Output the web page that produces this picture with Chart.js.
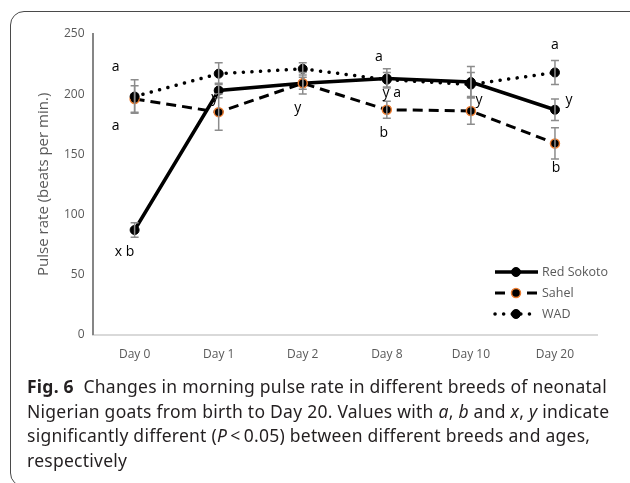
<!DOCTYPE html>
<html>
<head>
<meta charset="utf-8">
<script src="https://cdn.jsdelivr.net/npm/chart.js@4.4.1/dist/chart.umd.min.js"></script>
<style>
  body { margin: 0; background: #fff; width: 630px; height: 483px; overflow: hidden; position: relative; }
  #frame { position: absolute; left: 10px; top: 11px; width: 640px; height: 476px; border: 1.5px solid #4a4a4a; border-radius: 14px; box-sizing: border-box; }
  #wrap { position: absolute; left: 0; top: 0; width: 630px; height: 380px; }
  #caption { position: absolute; left: 27px; top: 374px; width: 600px; font-family: "Noto Sans", sans-serif; font-size: 17.5px; line-height: 24.7px; color: #231f20; letter-spacing: 0.25px; }
  #caption b { font-weight: 700; }
</style>
</head>
<body>
<div id="frame"></div>
<div id="wrap"><canvas id="lineChart" width="630" height="380"></canvas></div>
<div id="caption">
  <b>Fig. 6</b>&nbsp; Changes in morning pulse rate in different breeds of neonatal<br>
  Nigerian goats from birth to Day 20. Values with <i>a</i>, <i>b</i> and <i>x</i>, <i>y</i> indicate<br>
  significantly different (<i>P</i>&thinsp;&lt;&thinsp;0.05) between different breeds and ages,<br>
  respectively
</div>
<script>
// data
var days = ["Day 0", "Day 1", "Day 2", "Day 8", "Day 10", "Day 20"];
var redSokoto = [87, 203, 209, 213, 210, 187];
var redSokotoErr = [6, 6, 5, 8, 13, 9];
var sahel = [196, 185, 209, 187, 186, 159];
var sahelErr = [11, 15, 9, 7, 11, 13];
var wad = [198, 217, 221, 212, 208, 218];
var wadErr = [14, 9, 5, 6, 10, 10];
var yTicks = [0, 50, 100, 150, 200, 250];

// significance letters: which day, which series, what text
var letterDay = [0, 0, 0, 1, 2, 3, 3, 3, 4, 5, 5, 5];
var letterSeries = ["wad", "sahel", "red", "red", "sahel", "red", "red", "sahel", "red", "wad", "red", "sahel"];
var letterText = ["a", "a", "x b", "y", "y", "a", "y a", "b", "y", "a", "y", "b"];
// pixel nudges for those letters
var letterOffset = [[-19, -30], [-19, 27], [-10, 22], [-4, 8], [-5, 25], [-8, -21], [5, 15], [-3, 23], [8, 18], [0, -27], [14, -10], [1, 25]];

var seriesByName = { red: redSokoto, sahel: sahel, wad: wad };

var errorBars = {
  id: 'errorBars',
  afterDatasetsDraw: function(chart) {
    var ctx = chart.ctx;
    var x = chart.scales.x, y = chart.scales.y;
    var sets = [[redSokoto, redSokotoErr], [sahel, sahelErr], [wad, wadErr]];
    ctx.save();
    ctx.strokeStyle = '#8c8c8c';
    ctx.lineWidth = 1.5;
    sets.forEach(function(s) {
      s[0].forEach(function(v, i) {
        var px = x.getPixelForValue(i);
        var top = y.getPixelForValue(v + s[1][i]);
        var bot = y.getPixelForValue(v - s[1][i]);
        ctx.beginPath();
        ctx.moveTo(px, top); ctx.lineTo(px, bot);
        ctx.moveTo(px - 4, top); ctx.lineTo(px + 4, top);
        ctx.moveTo(px - 4, bot); ctx.lineTo(px + 4, bot);
        ctx.stroke();
      });
    });
    ctx.restore();
  }
};

var letters = {
  id: 'letters',
  afterDraw: function(chart) {
    var ctx = chart.ctx;
    var x = chart.scales.x, y = chart.scales.y;
    ctx.save();
    ctx.fillStyle = '#000';
    ctx.font = '14px "Open Sans", sans-serif';
    ctx.textAlign = 'center';
    ctx.textBaseline = 'middle';
    letterText.forEach(function(t, k) {
      var d = letterDay[k];
      var v = seriesByName[letterSeries[k]][d];
      ctx.fillText(t, x.getPixelForValue(d) + letterOffset[k][0], y.getPixelForValue(v) + letterOffset[k][1]);
    });
    ctx.restore();
  }
};

var legendBox = {
  id: 'legendBox',
  afterDraw: function(chart) {
    var ctx = chart.ctx;
    var x0 = 495, x1 = 538, mx = 516, tx = 542;
    var rows = [272, 293, 314];
    ctx.save();
    chart.data.datasets.forEach(function(ds, i) {
      var yy = rows[i];
      ctx.strokeStyle = ds.borderColor;
      ctx.lineWidth = ds.borderWidth;
      ctx.lineCap = ds.borderCapStyle || 'butt';
      ctx.setLineDash(ds.borderDash || []);
      ctx.beginPath(); ctx.moveTo(x0, yy); ctx.lineTo(x1, yy); ctx.stroke();
      ctx.setLineDash([]);
      ctx.beginPath(); ctx.arc(mx, yy, 4.5, 0, Math.PI * 2);
      ctx.fillStyle = ds.pointBackgroundColor; ctx.fill();
      ctx.lineWidth = ds.pointBorderWidth; ctx.strokeStyle = ds.pointBorderColor; ctx.stroke();
      ctx.fillStyle = '#595959';
      ctx.font = '12.5px "Open Sans", sans-serif';
      ctx.textBaseline = 'middle';
      ctx.fillText(ds.label, tx, yy);
    });
    ctx.restore();
  }
};

var ctxL = document.getElementById('lineChart').getContext('2d');
var myLineChart = new Chart(ctxL, {
  type: 'line',
  data: {
    labels: days,
    datasets: [{
      label: 'Red Sokoto',
      data: redSokoto,
      borderColor: '#000', borderWidth: 3.5,
      pointRadius: 4.5, pointBackgroundColor: '#000', pointBorderColor: '#000', pointBorderWidth: 1,
      order: 2
    }, {
      label: 'Sahel',
      data: sahel,
      borderColor: '#000', borderWidth: 3, borderDash: [10, 6],
      pointRadius: 4.5, pointBackgroundColor: '#000', pointBorderColor: '#ED7D31', pointBorderWidth: 1.5,
      order: 1
    }, {
      label: 'WAD',
      data: wad,
      borderColor: '#000', borderWidth: 3.5, borderDash: [0.1, 8.5], borderCapStyle: 'round',
      pointRadius: 4.5, pointBackgroundColor: '#000', pointBorderColor: '#000', pointBorderWidth: 1,
      order: 0
    }]
  },
  options: {
    responsive: false,
    animation: false,
    layout: { padding: { left: 32, right: 33, top: 34, bottom: 5 } },
    plugins: { legend: { display: false }, tooltip: { enabled: false } },
    scales: {
      x: {
        offset: true,
        grid: { display: false, drawTicks: false, offset: true },
        border: { color: '#d9d9d9', width: 2 },
        ticks: { color: '#595959', font: { family: 'Open Sans', size: 12 }, padding: 13 }
      },
      y: {
        min: 0, max: 250,
        afterBuildTicks: function(s) { s.ticks = yTicks.map(function(v) { return { value: v }; }); },
        grid: { display: false, drawTicks: false },
        border: { color: '#868686', width: 2 },
        ticks: { color: '#595959', font: { family: 'Open Sans', size: 12 }, padding: 8 },
        title: { display: true, text: 'Pulse rate (beats per min.)', color: '#595959', font: { family: 'Open Sans', size: 15 }, padding: 3 }
      }
    }
  },
  plugins: [errorBars, letters, legendBox]
});
</script>
</body>
</html>
